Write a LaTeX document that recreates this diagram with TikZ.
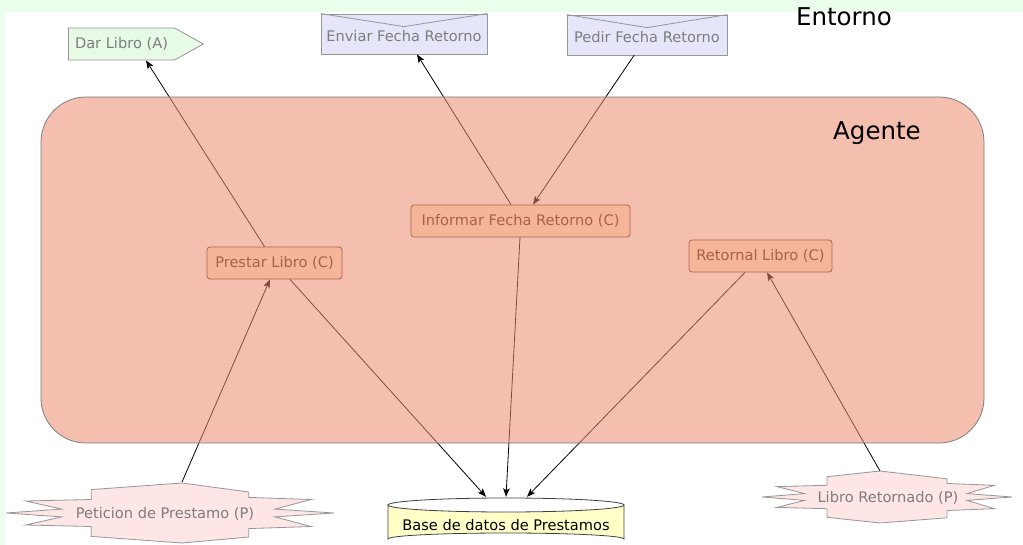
\documentclass[tikz,border=0pt]{standalone}
\usepackage{fontspec}
\setmainfont{DejaVu Sans}
\usetikzlibrary{arrows.meta,shapes.symbols}

\definecolor{pagegreen}{RGB}{235,253,235}
\definecolor{actfill}{RGB}{230,250,230}
\definecolor{msgfill}{RGB}{230,230,250}
\definecolor{perfill}{RGB}{255,230,230}
\definecolor{dbfill}{RGB}{255,255,200}
\definecolor{agentfill}{RGB}{236,140,110}
\definecolor{shapeline}{RGB}{150,150,150}
\definecolor{labelgray}{RGB}{125,125,125}
\definecolor{capfill}{RGB}{255,232,205}
\definecolor{capline}{RGB}{95,50,40}
\definecolor{captext}{RGB}{85,45,35}

% starburst outline: centre x, centre y, half width, half height, peak offset
\newcommand{\drawburst}[5]{%
  \draw[burstshape]
    ({#1-#3},#2) -- ({#1-0.66*#3},{#2-0.13*#4}) -- ({#1-0.88*#3},{#2-0.40*#4})
    -- ({#1-0.48*#3},{#2-0.45*#4}) -- ({#1-0.48*#3},{#2-0.78*#4})
    -- ({#1+#5},{#2-#4}) -- ({#1+0.48*#3},{#2-0.70*#4})
    -- ({#1+0.48*#3},{#2-0.52*#4}) -- ({#1+0.86*#3},{#2-0.45*#4})
    -- ({#1+0.64*#3},{#2-0.13*#4}) -- ({#1+#3},#2)
    -- ({#1+0.64*#3},{#2+0.13*#4}) -- ({#1+0.86*#3},{#2+0.45*#4})
    -- ({#1+0.48*#3},{#2+0.52*#4}) -- ({#1+0.48*#3},{#2+0.80*#4})
    -- ({#1+#5},{#2+#4}) -- ({#1-0.48*#3},{#2+0.78*#4})
    -- ({#1-0.48*#3},{#2+0.45*#4}) -- ({#1-0.88*#3},{#2+0.40*#4})
    -- ({#1-0.66*#3},{#2+0.13*#4}) -- cycle;}

\tikzset{
  lbl/.style={font=\fontsize{14.6}{17}\selectfont},
  actbox/.style={lbl, signal, signal to=east, signal pointer angle=58,
    fill=actfill, draw=shapeline, line width=0.8pt, text=labelgray,
    minimum width=135pt, minimum height=32pt, inner sep=2pt},
  msgbox/.style={lbl, rectangle, fill=msgfill, draw=shapeline, line width=0.8pt,
    text=labelgray, minimum height=40pt, text height=18pt, text depth=3pt},
  capbox/.style={lbl, rectangle, rounded corners=3pt, fill=capfill, draw=capline,
    line width=0.8pt, text=captext, minimum height=32pt},
  burstshape/.style={fill=perfill, draw=shapeline, line width=0.8pt},
  bursttext/.style={lbl, text=labelgray, inner sep=0pt},
  dbtext/.style={lbl, text=black, minimum width=236pt, minimum height=47pt,
    text height=17pt, text depth=0pt, inner sep=0pt},
  agentbox/.style={rectangle, rounded corners=45pt, fill=agentfill,
    fill opacity=0.55, draw=labelgray, line width=0.8pt},
  title/.style={font=\fontsize{24.5}{28}\selectfont, text=black},
  flow/.style={-{Stealth[length=8.5pt,width=6.5pt,inset=2pt]}, line width=0.8pt, black},
}

\begin{document}
\begin{tikzpicture}[x=1pt,y=-1pt]
\useasboundingbox (0,0) rectangle (1023,545);
% environment backdrop
\fill[pagegreen] (0,0) rectangle (1023,545);
\fill[white] (5,12) rectangle (1023,545);

% database cylinder
\draw[fill=dbfill, draw=black!75, line width=0.8pt]
  (388,505) -- (388,539) arc[start angle=180, end angle=360, x radius=118, y radius=6]
  -- (624,505) arc[start angle=0, end angle=180, x radius=118, y radius=7] -- cycle;
\draw[draw=black!75, line width=0.8pt]
  (388,505) arc[start angle=180, end angle=360, x radius=118, y radius=7];

% percepts
\drawburst{170}{513}{164}{30}{12}
\drawburst{887}{497}{125}{26}{-7}
\coordinate (petpeak) at (182,482);
\coordinate (retpeak) at (880,471);

% nodes
\node[actbox] (dar) at (121.5,44) {Dar Libro (A)\hspace{16pt}};
\node[msgbox, minimum width=166pt] (env) at (404,34) {Enviar Fecha Retorno};
\node[msgbox, minimum width=160pt] (ped) at (647,35) {Pedir Fecha Retorno};
\draw[shapeline, line width=0.8pt] (env.north west) -- ([yshift=-13pt]env.north) -- (env.north east);
\draw[shapeline, line width=0.8pt] (ped.north west) -- ([yshift=-13pt]ped.north) -- (ped.north east);

\node[capbox, minimum width=219pt] (inf) at (520.5,221) {Informar Fecha Retorno (C)};
\node[capbox, minimum width=135pt] (pre) at (274.5,263) {Prestar Libro (C)};
\node[capbox, minimum width=143pt] (ret) at (760.5,256) {Retornal Libro (C)};

\node[bursttext] (pet) at (165,514) {Peticion de Prestamo (P)};
\node[bursttext] (lib) at (888,498) {Libro Retornado (P)};
\node[dbtext] (base) at (506,521.5) {Base de datos de Prestamos\hspace{12pt}};

% connectors
\draw[flow] ([xshift=-10pt]pre.north) -- ([xshift=24.5pt]dar.south);
\draw[flow] ([xshift=-9.5pt]inf.north) -- ([xshift=13pt]env.south);
\draw[flow] ([xshift=-13pt]ped.south) -- ([xshift=12.5pt]inf.north);
\draw[flow] (petpeak) -- ([xshift=-4.5pt]pre.south);
\draw[flow] ([xshift=15.5pt]pre.south) -- ([xshift=-20pt,yshift=1pt]base.north);
\draw[flow] ([xshift=-0.5pt]inf.south) -- ([yshift=1pt]base.north);
\draw[flow] ([xshift=-15.5pt]ret.south) -- ([xshift=21pt,yshift=1pt]base.north);
\draw[flow] (retpeak) -- ([xshift=6.5pt]ret.south);

% agent region laid over its contents
\node[agentbox, minimum width=943pt, minimum height=346pt] (agent) at (512.5,270) {};
\node[title] (agentlbl) at (877,133) {Agente};
\node[title] (envlbl) at (844,17) {Entorno};
\end{tikzpicture}
\end{document}
